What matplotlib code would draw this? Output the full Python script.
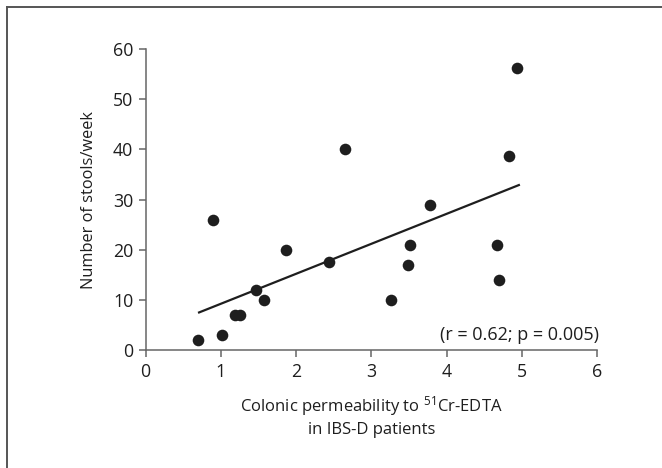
import matplotlib
matplotlib.use("Agg")
import matplotlib.pyplot as plt
from matplotlib.lines import Line2D

# values
permeability = [0.69, 0.90, 1.01, 1.19, 1.25, 1.47, 1.57, 1.86, 2.44, 2.65,
                3.26, 3.49, 3.51, 3.78, 4.67, 4.70, 4.83, 4.94]
stools = [2, 26, 3, 7, 7, 12, 10, 20, 17.5, 40,
          10, 17, 21, 29, 21, 14, 38.7, 56.2]
fit_x = [0.71, 4.96]
fit_y = [7.5, 32.9]
x_ticks = [0, 1, 2, 3, 4, 5, 6]
y_ticks = [0, 10, 20, 30, 40, 50, 60]

plt.rcParams['font.family'] = ['Open Sans', 'DejaVu Sans']
plt.rcParams['mathtext.fontset'] = 'custom'
plt.rcParams['mathtext.rm'] = 'Open Sans'
plt.rcParams['mathtext.it'] = 'Open Sans'

fig = plt.figure(figsize=(6.62, 4.68), dpi=100)
ax = fig.add_axes([0.220, 0.252, 0.682, 0.643])

ax.scatter(permeability, stools, s=70, color='#1e1e1e', zorder=3, linewidths=0)
ax.plot(fit_x, fit_y, color='#1e1e1e', lw=1.6, zorder=2)

ax.set_xlim(0, 6)
ax.set_ylim(0, 60)
ax.set_xticks(x_ticks)
ax.set_yticks(y_ticks)
for s in ['top', 'right']:
    ax.spines[s].set_visible(False)
for s in ['left', 'bottom']:
    ax.spines[s].set_color('#666666')
    ax.spines[s].set_linewidth(1.1)
ax.tick_params(axis='both', length=5, width=1.1, color='#666666',
               labelsize=12.8, labelcolor='#1e1e1e', pad=4)

ax.set_ylabel('Number of stools/week', fontsize=11.8, color='#1e1e1e', labelpad=11)
ax.set_xlabel('Colonic permeability to $^{51}$Cr-EDTA\nin IBS-D patients',
              fontsize=12, color='#1e1e1e', labelpad=10, linespacing=1.3)

ax.text(6.02, 3.0, '(r = 0.62; p = 0.005)', ha='right', va='center',
        fontsize=13, color='#1e1e1e')

# frame lines on top and left edge of the figure
fig.add_artist(Line2D([0.0106, 1.0], [0.985, 0.985], transform=fig.transFigure,
                      color='#555555', lw=1.4))
fig.add_artist(Line2D([0.0106, 0.0106], [0.0, 0.985], transform=fig.transFigure,
                      color='#555555', lw=1.4))

plt.savefig('out.png', dpi=100)
